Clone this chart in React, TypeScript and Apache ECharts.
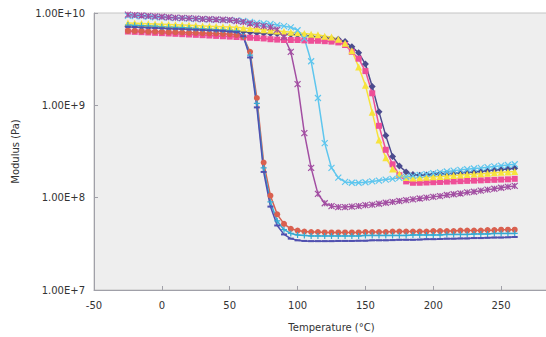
import React, { useEffect, useRef } from "react";
import * as echarts from "echarts";

const temps = [
  -25, -20, -15, -10, -5, 0, 5, 10, 15, 20,
  25, 30, 35, 40, 45, 50, 55, 60, 65, 70,
  75, 80, 85, 90, 95, 100, 105, 110, 115, 120,
  125, 130, 135, 140, 145, 150, 155, 160, 165, 170,
  175, 180, 185, 190, 195, 200, 205, 210, 215, 220,
  225, 230, 235, 240, 245, 250, 255, 260,
];

const diamondSeries = [
  7.2e9, 7.15e9, 7.1e9, 7.05e9, 7.0e9, 6.95e9, 6.9e9, 6.85e9, 6.8e9, 6.75e9,
  6.7e9, 6.65e9, 6.6e9, 6.55e9, 6.5e9, 6.45e9, 6.4e9, 6.3e9, 6.2e9, 6.1e9,
  6.05e9, 6.0e9, 5.95e9, 5.9e9, 5.85e9, 5.8e9, 5.7e9, 5.6e9, 5.5e9, 5.4e9,
  5.3e9, 5.2e9, 4.9e9, 4.3e9, 3.7e9, 2.8e9, 1.6e9, 8.5e8, 4.7e8, 2.8e8,
  2.2e8, 1.9e8, 1.78e8, 1.75e8, 1.76e8, 1.78e8, 1.8e8, 1.82e8, 1.84e8, 1.86e8,
  1.88e8, 1.9e8, 1.93e8, 1.96e8, 1.99e8, 2.02e8, 2.05e8, 2.08e8,
];

const squareSeries = [
  6.3e9, 6.25e9, 6.2e9, 6.15e9, 6.1e9, 6.05e9, 6.0e9, 5.95e9, 5.9e9, 5.85e9,
  5.8e9, 5.75e9, 5.7e9, 5.65e9, 5.6e9, 5.55e9, 5.5e9, 5.45e9, 5.4e9, 5.35e9,
  5.3e9, 5.2e9, 5.15e9, 5.1e9, 5.1e9, 5.1e9, 5.05e9, 5.0e9, 5.0e9, 4.95e9,
  4.9e9, 4.8e9, 4.5e9, 3.8e9, 3.2e9, 2.35e9, 1.35e9, 6.0e8, 3.3e8, 2.3e8,
  1.75e8, 1.5e8, 1.45e8, 1.45e8, 1.46e8, 1.47e8, 1.48e8, 1.49e8, 1.5e8, 1.51e8,
  1.52e8, 1.53e8, 1.54e8, 1.55e8, 1.56e8, 1.57e8, 1.58e8, 1.6e8,
];

const triangleSeries = [
  7.8e9, 7.75e9, 7.7e9, 7.65e9, 7.6e9, 7.55e9, 7.5e9, 7.45e9, 7.4e9, 7.35e9,
  7.3e9, 7.25e9, 7.2e9, 7.15e9, 7.1e9, 7.05e9, 7.0e9, 6.9e9, 6.8e9, 6.7e9,
  6.6e9, 6.5e9, 6.4e9, 6.3e9, 6.2e9, 6.1e9, 6.0e9, 5.9e9, 5.8e9, 5.6e9,
  5.5e9, 5.2e9, 4.7e9, 3.9e9, 2.6e9, 1.65e9, 8.4e8, 4.2e8, 2.7e8, 2.05e8,
  1.8e8, 1.65e8, 1.63e8, 1.64e8, 1.66e8, 1.68e8, 1.7e8, 1.72e8, 1.74e8, 1.76e8,
  1.78e8, 1.8e8, 1.82e8, 1.84e8, 1.86e8, 1.88e8, 1.9e8, 1.92e8,
];

const crossSeries = [
  9.3e9, 9.25e9, 9.2e9, 9.1e9, 9.0e9, 8.95e9, 8.9e9, 8.8e9, 8.75e9, 8.7e9,
  8.6e9, 8.55e9, 8.5e9, 8.45e9, 8.4e9, 8.35e9, 8.3e9, 8.2e9, 8.0e9, 7.8e9,
  7.7e9, 7.6e9, 7.4e9, 7.2e9, 7.0e9, 6.5e9, 5.3e9, 3.0e9, 1.2e9, 3.9e8,
  2.1e8, 1.65e8, 1.48e8, 1.45e8, 1.45e8, 1.47e8, 1.5e8, 1.53e8, 1.57e8, 1.6e8,
  1.64e8, 1.68e8, 1.72e8, 1.76e8, 1.8e8, 1.84e8, 1.88e8, 1.92e8, 1.96e8, 2.0e8,
  2.03e8, 2.07e8, 2.1e8, 2.14e8, 2.18e8, 2.22e8, 2.26e8, 2.3e8,
];

const asteriskSeries = [
  9.6e9, 9.5e9, 9.4e9, 9.3e9, 9.2e9, 9.1e9, 9.0e9, 8.9e9, 8.85e9, 8.8e9,
  8.7e9, 8.6e9, 8.55e9, 8.5e9, 8.45e9, 8.4e9, 8.2e9, 8.0e9, 7.7e9, 7.4e9,
  7.2e9, 7.0e9, 6.6e9, 5.5e9, 3.8e9, 1.7e9, 5.0e8, 2.1e8, 1.1e8, 8.7e7,
  8.1e7, 7.9e7, 7.9e7, 8.0e7, 8.1e7, 8.3e7, 8.4e7, 8.6e7, 8.8e7, 9.0e7,
  9.2e7, 9.4e7, 9.6e7, 9.8e7, 1.0e8, 1.02e8, 1.04e8, 1.07e8, 1.09e8, 1.11e8,
  1.14e8, 1.16e8, 1.19e8, 1.22e8, 1.25e8, 1.28e8, 1.31e8, 1.34e8,
];

const circleSeries = [
  6.4e9, 6.4e9, 6.35e9, 6.3e9, 6.3e9, 6.25e9, 6.2e9, 6.2e9, 6.15e9, 6.1e9,
  6.1e9, 6.05e9, 6.0e9, 6.0e9, 5.95e9, 5.9e9, 5.8e9, 5.5e9, 3.8e9, 1.2e9,
  2.4e8, 1.05e8, 6.6e7, 5.2e7, 4.6e7, 4.4e7, 4.3e7, 4.25e7, 4.25e7, 4.2e7,
  4.2e7, 4.2e7, 4.2e7, 4.2e7, 4.2e7, 4.25e7, 4.25e7, 4.25e7, 4.25e7, 4.3e7,
  4.3e7, 4.3e7, 4.3e7, 4.3e7, 4.3e7, 4.35e7, 4.35e7, 4.35e7, 4.35e7, 4.4e7,
  4.4e7, 4.4e7, 4.4e7, 4.45e7, 4.45e7, 4.5e7, 4.5e7, 4.5e7,
];

const plusSeries = [
  7.4e9, 7.35e9, 7.3e9, 7.25e9, 7.2e9, 7.1e9, 7.05e9, 7.0e9, 6.95e9, 6.9e9,
  6.8e9, 6.75e9, 6.7e9, 6.6e9, 6.55e9, 6.5e9, 6.4e9, 5.6e9, 3.5e9, 1.05e9,
  2.1e8, 9.0e7, 5.6e7, 4.5e7, 4.1e7, 3.95e7, 3.9e7, 3.85e7, 3.85e7, 3.85e7,
  3.85e7, 3.85e7, 3.85e7, 3.85e7, 3.85e7, 3.9e7, 3.9e7, 3.9e7, 3.9e7, 3.9e7,
  3.9e7, 3.9e7, 3.95e7, 3.95e7, 3.95e7, 3.95e7, 3.95e7, 4.0e7, 4.0e7, 4.0e7,
  4.0e7, 4.05e7, 4.05e7, 4.05e7, 4.1e7, 4.1e7, 4.1e7, 4.1e7,
];

const dashSeries = [
  7.1e9, 7.05e9, 7.0e9, 6.95e9, 6.9e9, 6.85e9, 6.8e9, 6.75e9, 6.7e9, 6.65e9,
  6.6e9, 6.55e9, 6.5e9, 6.45e9, 6.4e9, 6.3e9, 6.2e9, 5.6e9, 3.3e9, 9.5e8,
  1.9e8, 8.0e7, 5.0e7, 4.0e7, 3.6e7, 3.45e7, 3.4e7, 3.38e7, 3.38e7, 3.38e7,
  3.38e7, 3.4e7, 3.4e7, 3.4e7, 3.42e7, 3.42e7, 3.45e7, 3.45e7, 3.45e7, 3.47e7,
  3.5e7, 3.5e7, 3.5e7, 3.52e7, 3.55e7, 3.55e7, 3.57e7, 3.6e7, 3.6e7, 3.62e7,
  3.62e7, 3.65e7, 3.65e7, 3.68e7, 3.7e7, 3.7e7, 3.72e7, 3.75e7,
];

const xTicks = [-50, 0, 50, 100, 150, 200, 250, 300];

const FONT = "DejaVu Sans";

const seriesDefs = [
  { name: "S1", values: diamondSeries, color: "#4b4b8e", symbol: "diamond", size: 7, stroke: false },
  { name: "S2", values: squareSeries, color: "#ee4f98", symbol: "rect", size: 6, stroke: false },
  { name: "S3", values: triangleSeries, color: "#f7e33c", symbol: "triangle", size: 7, stroke: false },
  { name: "S4", values: crossSeries, color: "#5ec6ee", symbol: "path://M0,0L10,10M10,0L0,10", size: 6, stroke: true },
  { name: "S5", values: asteriskSeries, color: "#a24ea2", symbol: "path://M0,0L10,10M10,0L0,10M5,0L5,10", size: 6, stroke: true },
  { name: "S6", values: circleSeries, color: "#d9604f", symbol: "circle", size: 6, stroke: false },
  { name: "S7", values: plusSeries, color: "#35a9d2", symbol: "path://M5,0L5,10M0,5L10,5", size: 6, stroke: true },
  { name: "S8", values: dashSeries, color: "#5050b0", symbol: "rect", size: [6, 2], stroke: false },
];

export default function App() {
  const ref = useRef<HTMLDivElement>(null);
  useEffect(() => {
    if (!ref.current) return;
    const chart = echarts.init(ref.current, null, { renderer: "svg" });
    const series = seriesDefs.map((s) => ({
      name: s.name,
      type: "line",
      data: temps.map((t, i) => [t, s.values[i]]),
      symbol: s.symbol,
      symbolSize: s.size,
      showSymbol: true,
      lineStyle: { color: s.color, width: 1.5 },
      itemStyle: s.stroke
        ? { color: s.color, borderColor: s.color, borderWidth: 1.2 }
        : { color: s.color, borderWidth: 0 },
      emphasis: { disabled: true },
    }));
    chart.setOption({
      animation: false,
      backgroundColor: "#ffffff",
      grid: {
        left: 94,
        top: 13,
        width: 475,
        height: 277,
        outerBoundsMode: "none",
        containLabel: false,
        show: true,
        backgroundColor: "#eeeeee",
        borderColor: "#c4c4c4",
        borderWidth: 1,
      },
      xAxis: {
        type: "value",
        min: xTicks[0],
        max: xTicks[xTicks.length - 1],
        interval: 50,
        splitLine: { show: false },
        axisLine: { show: true, onZero: false, lineStyle: { color: "#a0a0a8", width: 1 } },
        axisTick: { show: true, inside: true, length: 4, lineStyle: { color: "#a0a0a8" } },
        axisLabel: { color: "#333", fontFamily: FONT, fontSize: 10, margin: 10, showMaxLabel: false },
        name: "Temperature (°C)",
        nameLocation: "middle",
        nameGap: 32,
        nameTextStyle: { color: "#333", fontFamily: FONT, fontSize: 10 },
      },
      yAxis: {
        type: "log",
        logBase: 10,
        min: 1e7,
        max: 1e10,
        splitLine: { show: false },
        minorTick: { show: false },
        axisLine: { show: true, onZero: false, lineStyle: { color: "#a0a0a8", width: 1 } },
        axisTick: { show: true, inside: true, length: 4, lineStyle: { color: "#a0a0a8" } },
        axisLabel: {
          color: "#333",
          fontFamily: FONT,
          fontSize: 10,
          margin: 9,
          formatter: (v: number) => v.toExponential(2).toUpperCase(),
        },
        name: "Modulus (Pa)",
        nameLocation: "middle",
        nameGap: 74,
        nameRotate: 90,
        nameTextStyle: { color: "#333", fontFamily: FONT, fontSize: 10 },
      },
      series,
    });
    return () => chart.dispose();
  }, []);
  return <div ref={ref} style={{ width: 546, height: 337, position: "absolute", left: 0, top: 0 }} />;
}
